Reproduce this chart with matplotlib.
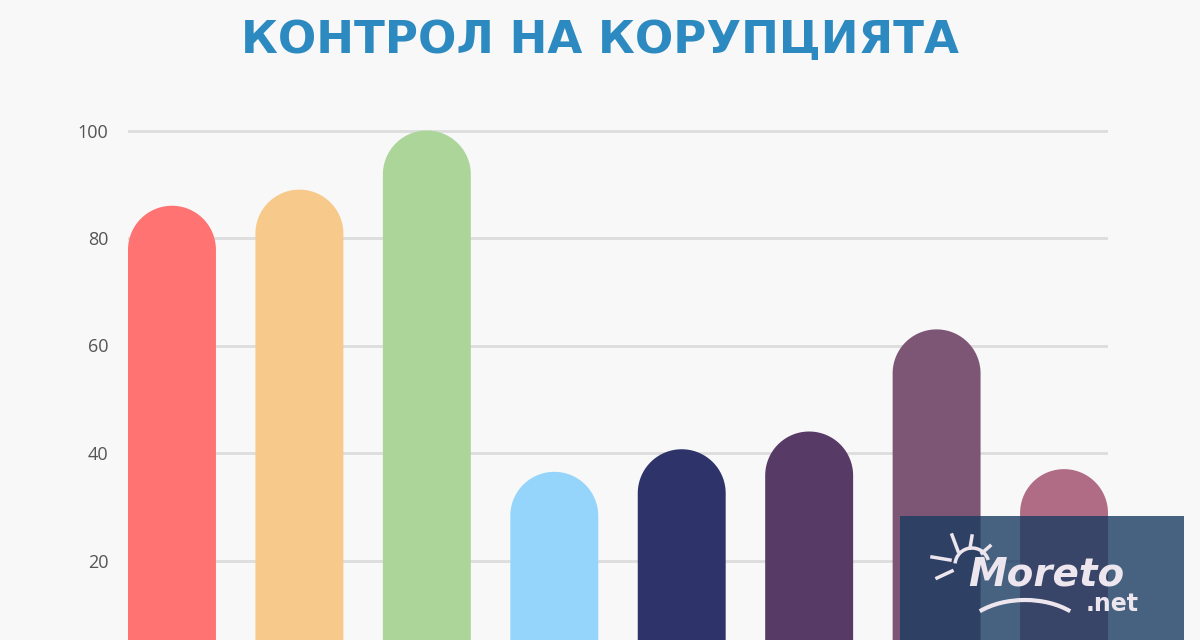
import matplotlib
matplotlib.use("Agg")
import numpy as np
import matplotlib.pyplot as plt
from matplotlib.patches import Rectangle, Arc

# данни
title = "КОНТРОЛ НА КОРУПЦИЯТА"
values = [86, 89, 100, 36.5, 40.7, 44, 63, 37]
colors = ["#FF7373", "#F7C98B", "#ACD59A", "#96D5FB",
          "#2E336A", "#573A66", "#7D5675", "#B06C85"]
yticks = [20, 40, 60, 80, 100]

W, H = 12, 6.4
DPI = 100
bg = "#F8F8F8"
bar_w = 0.69

fig = plt.figure(figsize=(W, H), dpi=DPI, facecolor=bg)

# оси: от x=128 до x=1108 px, долу е отрязано под нулата
ax_left, ax_right = 128 / 1200, 1108 / 1200
ax_top_px = 120
ax = fig.add_axes([ax_left, 0, ax_right - ax_left, 1 - ax_top_px / 640])
ax.set_facecolor(bg)
ymin = (668 - 640) / 5.375
ymax = (668 - ax_top_px) / 5.375
ax.set_ylim(ymin, ymax)
ax.set_xlim(-bar_w / 2, len(values) - 1 + bar_w / 2)

for s in ax.spines.values():
    s.set_visible(False)
ax.set_xticks([])
ax.set_yticks(yticks)
ax.tick_params(axis="y", length=0, pad=14, labelsize=13, labelcolor="#555555")
for lab in ax.get_yticklabels():
    lab.set_fontfamily("Open Sans")
ax.grid(axis="y", color="#DDDDDD", linewidth=2)
ax.set_axisbelow(True)

# радиус на заобления връх в единици по y
ax_w_px = (ax_right - ax_left) * W * DPI
ax_h_px = (1 - ax_top_px / 640) * H * DPI
px_per_x = ax_w_px / (ax.get_xlim()[1] - ax.get_xlim()[0])
px_per_y = ax_h_px / (ymax - ymin)
r_y = bar_w * px_per_x / 2 / px_per_y

# стълбове със заоблен връх (правоъгълник + полуелипса като един контур)
t = np.linspace(0, np.pi, 60)
for i, (v, c) in enumerate(zip(values, colors)):
    cy = v - r_y
    xs = np.concatenate([[i + bar_w / 2], i + bar_w / 2 * np.cos(t), [i - bar_w / 2]])
    ys = np.concatenate([[0], cy + r_y * np.sin(t), [0]])
    ax.fill(xs, ys, color=c, zorder=3, linewidth=0, clip_on=False)

fig.text(0.5, 1 - 53 / 640, title, ha="center", va="baseline",
         fontsize=32.5, fontweight="bold", family="DejaVu Sans",
         color="#2C8AC0")

# воден знак
fig.patches.append(Rectangle((900 / 1200, 0), 284 / 1200, 124 / 640,
                             transform=fig.transFigure, color="#1A3C62",
                             alpha=0.8, zorder=10, linewidth=0))
wm = "#EEE6EE"
fig.text(1046 / 1200, 1 - 574 / 640, "Moreto", ha="center", va="center",
         fontsize=28, fontweight="bold", style="italic", color=wm,
         family="DejaVu Sans", zorder=11)
fig.text(1112 / 1200, 1 - 604 / 640, ".net", ha="center", va="center",
         fontsize=17, fontweight="bold", color=wm, family="DejaVu Sans",
         zorder=11)
# слънце и вълна
fig.patches.append(Arc((972 / 1200, 1 - 565 / 640), 34 / 1200, 34 / 640,
                       theta1=30, theta2=170, transform=fig.transFigure,
                       color=wm, linewidth=2.5, zorder=11))
fig.patches.append(Arc((1025 / 1200, 1 - 640 / 640), 130 / 1200, 80 / 640,
                       theta1=50, theta2=130, transform=fig.transFigure,
                       color=wm, linewidth=3, zorder=11))
for x0, y0, x1, y1 in [(932, 557, 950, 560), (937, 578, 952, 571),
                       (952, 535, 958, 551), (972, 536, 970, 548),
                       (990, 546, 982, 553)]:
    fig.add_artist(plt.Line2D([x0 / 1200, x1 / 1200],
                              [1 - y0 / 640, 1 - y1 / 640],
                              transform=fig.transFigure, color=wm,
                              linewidth=2.5, zorder=11))

fig.savefig("out.png", dpi=DPI, facecolor=bg)
